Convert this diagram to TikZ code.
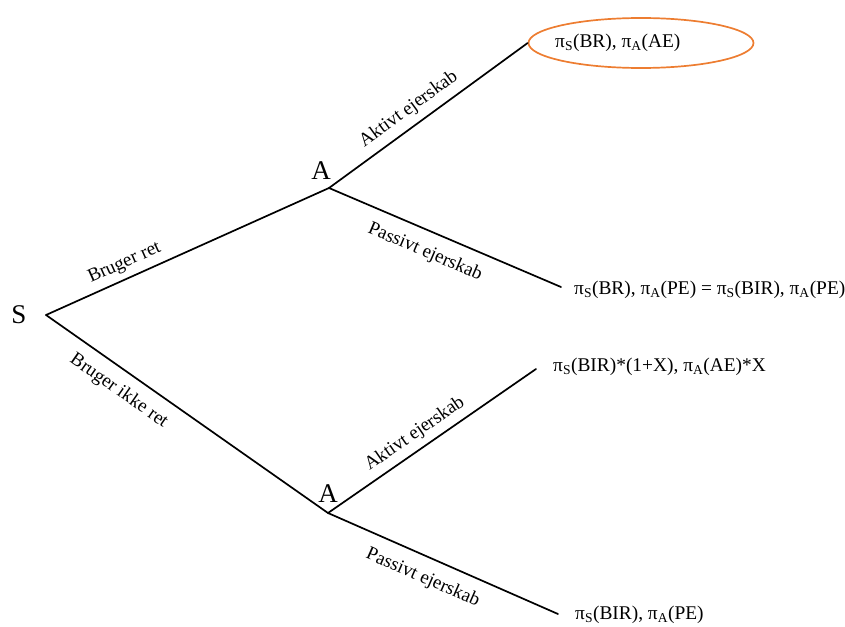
\documentclass[tikz,border=0pt]{standalone}
\usepackage{fontspec}
\setmainfont{Liberation Serif}
\usetikzlibrary{shapes.geometric}
\definecolor{hlorange}{RGB}{237,125,49}
\newcommand{\payoffpi}[1]{π\textsubscript{#1}}
\begin{document}
\begin{tikzpicture}[x=1pt,y=-1pt,
  branch/.style={line width=1.7pt, line cap=round},
  player/.style={font=\fontsize{27}{31}\selectfont, inner sep=0pt},
  payoff/.style={font=\fontsize{19.4}{23}\selectfont, anchor=west, inner sep=0pt},
  move/.style={font=\fontsize{19}{22}\selectfont, sloped, inner sep=2pt},
  ]
\useasboundingbox (0,0) rectangle (845,626);

% decision points
\coordinate (S) at (46,315);
\coordinate (A1) at (329,188);
\coordinate (A2) at (328,513);
\node[player] (lS) at (19,315) {S};
\node[player] (lA1) at (321,171) {A};
\node[player] (lA2) at (328,494) {A};

% outcomes
\node[draw=hlorange, line width=1.7pt, ellipse, minimum width=225, minimum height=50] (e1) at (641,43) {};
\node[payoff] (t1) at (555,43) {\payoffpi{S}(BR), \payoffpi{A}(AE)};
\coordinate (e2) at (561,287);
\node[payoff] (t2) at (574,290) {\payoffpi{S}(BR), \payoffpi{A}(PE) = \payoffpi{S}(BIR), \payoffpi{A}(PE)};
\coordinate (e3) at (536,369);
\node[payoff] (t3) at (553,367) {\payoffpi{S}(BIR)*(1+X), \payoffpi{A}(AE)*X};
\coordinate (e4) at (558,614);
\node[payoff] (t4) at (575,615) {\payoffpi{S}(BIR), \payoffpi{A}(PE)};

% branches
\draw[branch] (S) -- node[move, pos=0.3, above=4pt] {Bruger ret} (A1);
\draw[branch] (S) -- node[move, pos=0.3, below=9pt] {Bruger ikke ret} (A2);
\draw[branch] (A1) -- node[move, pos=0.45, above=5pt] {Aktivt ejerskab} (e1.west);
\draw[branch] (A1) -- node[move, pos=0.45, below=10pt] {Passivt ejerskab} (e2);
\draw[branch] (A2) -- node[move, pos=0.46, above=4pt] {Aktivt ejerskab} (e3);
\draw[branch] (A2) -- node[move, pos=0.45, below=10pt] {Passivt ejerskab} (e4);
\end{tikzpicture}
\end{document}
